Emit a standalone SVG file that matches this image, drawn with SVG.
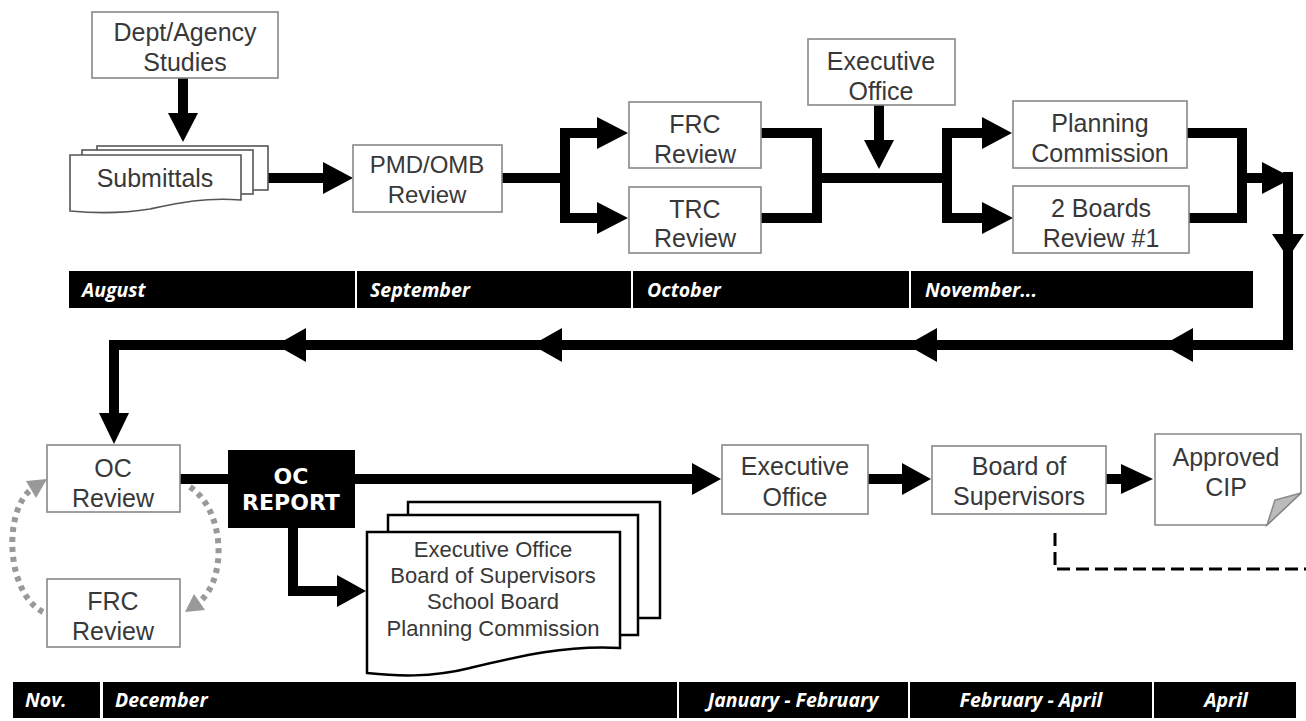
<svg xmlns="http://www.w3.org/2000/svg" width="1306" height="721" viewBox="0 0 1306 721">
<style>
.box{fill:#fff;stroke:#888;stroke-width:1.6}
.doc{fill:#fff;stroke:#000;stroke-width:2.5}
.sub{fill:#fff;stroke:#555;stroke-width:1.6}
.t{font-family:"Liberation Sans",Arial,sans-serif;font-size:25px;fill:#383838;text-anchor:middle}
.t2{font-family:"Liberation Sans",Arial,sans-serif;font-size:22px;fill:#383838;text-anchor:middle}
.rep{font-family:"DejaVu Sans",sans-serif;font-weight:bold;font-size:22px;fill:#fff;text-anchor:middle}
.bar{fill:#000}
.m{font-family:"Open Sans","DejaVu Sans",sans-serif;font-weight:bold;font-style:italic;font-size:19.5px;fill:#fff}
.mc{text-anchor:middle}
.ln{fill:none;stroke:#000;stroke-width:10;stroke-linejoin:miter}
.ah{fill:#000}
.dot{fill:none;stroke:#999;stroke-width:6;stroke-dasharray:5 5}
.gah{fill:#999}
.dash{fill:none;stroke:#000;stroke-width:3;stroke-dasharray:13 6}
</style>

<g id="timeline-top">
<rect class="bar" x="69" y="271" width="286" height="37"/>
<rect class="bar" x="357" y="271" width="274" height="37"/>
<rect class="bar" x="633" y="271" width="276" height="37"/>
<rect class="bar" x="911" y="271" width="342" height="37"/>
<text class="m" x="82" y="297">August</text>
<text class="m" x="370" y="297">September</text>
<text class="m" x="647" y="297">October</text>
<text class="m" x="925" y="297">November...</text>
</g>

<g id="timeline-bottom">
<rect class="bar" x="13" y="682" width="87" height="36"/>
<rect class="bar" x="103" y="682" width="574" height="36"/>
<rect class="bar" x="679" y="682" width="229" height="36"/>
<rect class="bar" x="910" y="682" width="242" height="36"/>
<rect class="bar" x="1154" y="682" width="142" height="36"/>
<text class="m" x="25" y="707">Nov.</text>
<text class="m" x="115" y="707">December</text>
<text class="m mc" x="793" y="707">January - February</text>
<text class="m mc" x="1031" y="707">February - April</text>
<text class="m mc" x="1226" y="707">April</text>
</g>

<g id="connectors">
<path class="ln" d="M183,78 V114"/>
<polygon class="ah" points="168,113 183,142 198,113"/>
<path class="ln" d="M268,178 H324"/>
<polygon class="ah" points="323,162 353,178 323,194"/>
<path class="ln" d="M502,178 H565"/>
<path class="ln" d="M599,133 H565 V218 H599"/>
<polygon class="ah" points="597,117 628,133 597,149"/>
<polygon class="ah" points="597,202 628,218 597,234"/>
<path class="ln" d="M761,133 H817 V218 H761"/>
<path class="ln" d="M817,178 H947"/>
<path class="ln" d="M879,105 V141"/>
<polygon class="ah" points="864,140 879,169 894,140"/>
<path class="ln" d="M983,133 H947 V218 H983"/>
<polygon class="ah" points="982,117 1012,133 982,149"/>
<polygon class="ah" points="982,202 1013,218 982,234"/>
<path class="ln" d="M1187,133 H1242 V218 H1189"/>
<path class="ln" d="M1242,178 H1263"/>
<polygon class="ah" points="1262,162 1293,178 1262,194"/>
<path class="ln" d="M1288,172 V345 H114 V414"/>
<polygon class="ah" points="1272,234 1288,258 1304,234"/>
<polygon class="ah" points="1163,345 1193,328 1193,362"/>
<polygon class="ah" points="907,345 937,328 937,362"/>
<polygon class="ah" points="532,345 562,328 562,362"/>
<polygon class="ah" points="276,345 306,328 306,362"/>
<polygon class="ah" points="99,413 114,444 129,413"/>
<path class="ln" d="M180,479 H693"/>
<polygon class="ah" points="692,463 721,479 692,495"/>
<path class="ln" d="M293,528 V591 H338"/>
<polygon class="ah" points="337,575 366,591 337,607"/>
<path class="ln" d="M868,479 H903"/>
<polygon class="ah" points="902,463 931,479 902,495"/>
<path class="ln" d="M1106,479 H1122"/>
<polygon class="ah" points="1121,464 1153,479 1121,494"/>
<path class="dot" d="M43,612 C5,592 3,508 33,488"/>
<polygon class="gah" points="47,479 36,498 26,481"/>
<path class="dot" d="M190,487 C225,510 228,580 198,603"/>
<polygon class="gah" points="185,612 205,610 194,594"/>
<path class="dash" d="M1055,533 V569 H1306"/>
</g>

<g id="dept-agency">
<rect class="box" x="92" y="12" width="186" height="66"/>
<text class="t" x="185" y="41">Dept/Agency</text>
<text class="t" x="185" y="71">Studies</text>
</g>

<g id="submittals">
<rect class="sub" x="97" y="146" width="171" height="44"/>
<rect class="sub" x="82" y="150" width="171" height="44"/>
<path class="sub" d="M70,155 H241 V200 C205,197 178,203 150,209 C120,214 92,213 70,211 Z"/>
<text class="t" x="155" y="187">Submittals</text>
</g>

<g id="pmd-omb">
<rect class="box" x="353" y="145" width="149" height="67"/>
<text class="t" x="427" y="173" style="font-size:24px">PMD/OMB</text>
<text class="t" x="427" y="203" style="font-size:24px">Review</text>
</g>

<g id="frc-review-top">
<rect class="box" x="629" y="102" width="132" height="66"/>
<text class="t" x="695" y="133">FRC</text>
<text class="t" x="695" y="163">Review</text>
</g>

<g id="trc-review">
<rect class="box" x="629" y="187" width="132" height="66"/>
<text class="t" x="695" y="218">TRC</text>
<text class="t" x="695" y="247">Review</text>
</g>

<g id="executive-office-top">
<rect class="box" x="808" y="39" width="147" height="66"/>
<text class="t" x="881" y="70">Executive</text>
<text class="t" x="881" y="100">Office</text>
</g>

<g id="planning-commission">
<rect class="box" x="1013" y="101" width="174" height="67"/>
<text class="t" x="1100" y="132">Planning</text>
<text class="t" x="1100" y="162">Commission</text>
</g>

<g id="two-boards">
<rect class="box" x="1013" y="186" width="176" height="67"/>
<text class="t" x="1101" y="217">2 Boards</text>
<text class="t" x="1101" y="247">Review #1</text>
</g>

<g id="oc-review">
<rect class="box" x="47" y="445" width="133" height="67"/>
<text class="t" x="113" y="477">OC</text>
<text class="t" x="113" y="507">Review</text>
</g>

<g id="frc-review-bottom">
<rect class="box" x="47" y="579" width="133" height="68"/>
<text class="t" x="113" y="610">FRC</text>
<text class="t" x="113" y="640">Review</text>
</g>

<g id="oc-report">
<rect x="228" y="450" width="127" height="78" fill="#000"/>
<text class="rep" x="291" y="484">OC</text>
<text class="rep" x="291" y="510">REPORT</text>
</g>

<g id="report-recipients">
<rect class="doc" x="408" y="502" width="252" height="116"/>
<rect class="doc" x="388" y="515" width="250" height="120"/>
<path class="doc" d="M367,532 H620 V648 C565,645 520,656 470,668 C430,678 395,676 367,673 Z"/>
<text class="t2" x="493" y="557">Executive Office</text>
<text class="t2" x="493" y="583">Board of Supervisors</text>
<text class="t2" x="493" y="609">School Board</text>
<text class="t2" x="493" y="636">Planning Commission</text>
</g>

<g id="executive-office-bottom">
<rect class="box" x="722" y="445" width="146" height="69"/>
<text class="t" x="795" y="475">Executive</text>
<text class="t" x="795" y="506">Office</text>
</g>

<g id="board-of-supervisors">
<rect class="box" x="932" y="446" width="174" height="68"/>
<text class="t" x="1019" y="475">Board of</text>
<text class="t" x="1019" y="505">Supervisors</text>
</g>

<g id="approved-cip">
<path class="box" d="M1155,434 H1301 V493 L1267,525 H1155 Z"/>
<polygon points="1301,493 1275,500 1267,525" fill="#bbb" stroke="#888" stroke-width="1.5"/>
<text class="t" x="1226" y="466">Approved</text>
<text class="t" x="1226" y="496">CIP</text>
</g>
</svg>
